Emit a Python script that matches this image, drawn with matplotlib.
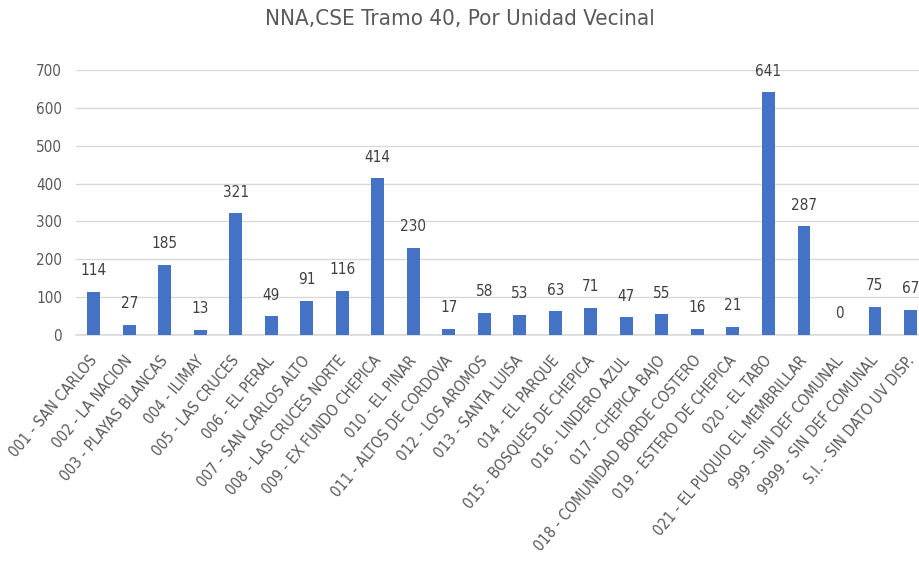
import matplotlib
matplotlib.use("Agg")
import matplotlib.pyplot as plt
import matplotlib.transforms as mtransforms
import numpy as np

categories = ["001 - SAN CARLOS", "002 - LA NACION", "003 - PLAYAS BLANCAS", "004 - ILIMAY",
              "005 - LAS CRUCES", "006 - EL PERAL", "007 - SAN CARLOS ALTO",
              "008 - LAS CRUCES NORTE", "009 - EX FUNDO CHEPICA", "010 - EL PINAR",
              "011 - ALTOS DE CORDOVA", "012 - LOS AROMOS", "013 - SANTA LUISA",
              "014 - EL PARQUE", "015 - BOSQUES DE CHEPICA", "016 - LINDERO AZUL",
              "017 - CHEPICA BAJO", "018 - COMUNIDAD BORDE COSTERO", "019 - ESTERO DE CHEPICA",
              "020 - EL TABO", "021 - EL PUQUIO EL MEMBRILLAR", "999 - SIN DEF COMUNAL",
              "9999 - SIN DEF COMUNAL", "S.I. - SIN DATO UV DISP."]
values = [114, 27, 185, 13, 321, 49, 91, 116, 414, 230, 17, 58, 53, 63, 71, 47, 55,
          16, 21, 641, 287, 0, 75, 67]

plt.rcParams['font.family'] = ['DejaVu Sans']
plt.rcParams['font.stretch'] = 'condensed'

fig = plt.figure(figsize=(9.2, 5.69), dpi=100)
ax = fig.add_axes([76/920, 234/569, 1 - 76/920, 265/569])

x = np.arange(len(categories))
ax.bar(x, values, width=0.36, color="#4472C4", zorder=3)
for xi, v in zip(x, values):
    ax.text(xi, v + 36, str(v), ha="center", va="bottom", fontsize=11, color="#404040")

ax.set_xlim(-0.5, 23.27)
ax.set_ylim(0, 700)
ax.set_yticks(range(0, 701, 100))
ax.yaxis.grid(True, color="#d9d9d9", linewidth=1, zorder=0)
for s in ["top", "right", "left"]:
    ax.spines[s].set_visible(False)
ax.spines["bottom"].set_color("#d9d9d9")
ax.spines["bottom"].set_linewidth(1.2)
ax.tick_params(axis="both", length=0, colors="#595959", labelsize=11)
ax.tick_params(axis="y", pad=10)
ax.tick_params(axis="x", pad=13, labelsize=11)
ax.set_xticks(x)
ax.set_xticklabels(categories, rotation=50, ha="right", rotation_mode="anchor")

# nudge the rotated labels a little left so the last one stays inside
shift = mtransforms.ScaledTranslation(-5/100, 0, fig.dpi_scale_trans)
for lbl in ax.get_xticklabels():
    lbl.set_transform(lbl.get_transform() + shift)

fig.suptitle("NNA,CSE Tramo 40, Por Unidad Vecinal", y=0.985, fontsize=16, color="#595959")

plt.savefig("out.png", dpi=100)
